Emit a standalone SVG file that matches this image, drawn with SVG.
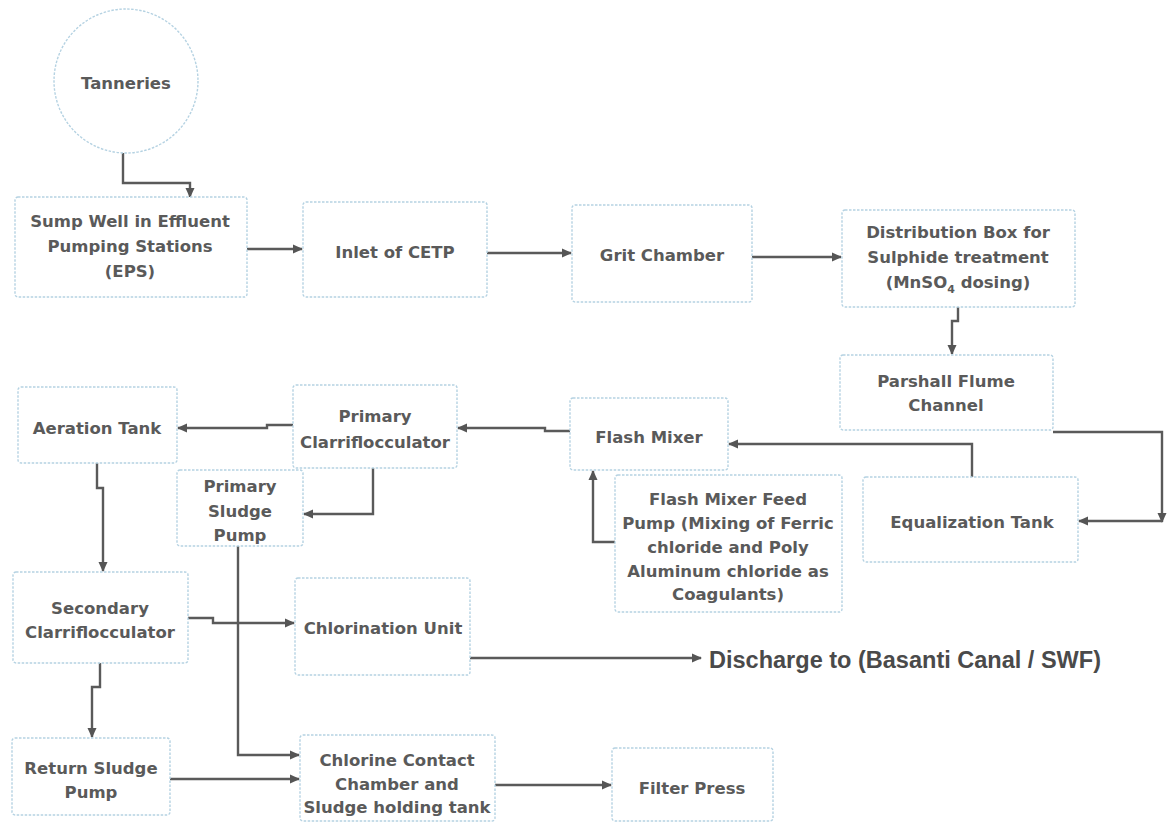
<svg xmlns="http://www.w3.org/2000/svg" width="1172" height="823" viewBox="0 0 1172 823">
<style>
.box{fill:#ffffff;stroke:#b5d2e2;stroke-width:1.4;stroke-dasharray:2.5 1.5}
.t{font-family:"DejaVu Sans","Liberation Sans",sans-serif;font-weight:bold;font-size:16.5px;fill:#5a5a5a;text-anchor:middle}
.big{font-family:"Liberation Sans",Arial,sans-serif;font-weight:bold;font-size:23px;fill:#4a4a4a}
.c{fill:none;stroke:#5a5a5a;stroke-width:2.4;marker-end:url(#ah)}
</style>
<defs>
<marker id="ah" markerUnits="userSpaceOnUse" markerWidth="10" markerHeight="10" refX="9" refY="5" orient="auto">
<path d="M0,0.5 L10,5 L0,9.5 z" fill="#555555"/>
</marker>
</defs>
<rect width="1172" height="823" fill="#ffffff"/>

<g id="connectors">
<path class="c" d="M123,153 V183 H190 V197"/>
<path class="c" d="M247,249 H302"/>
<path class="c" d="M487,253 H571"/>
<path class="c" d="M752,257 H841"/>
<path class="c" d="M958,307 V321 H952 V354"/>
<path class="c" d="M1053,432 H1162 V522"/>
<path class="c" d="M1162,521 H1079"/>
<path class="c" d="M972,477 V444 H729"/>
<path class="c" d="M570,431 H545 V428 H458"/>
<path class="c" d="M615,542 H593 V471"/>
<path class="c" d="M293,425 H267 V428 H178"/>
<path class="c" d="M373,468 V514 H304"/>
<path class="c" d="M97,463 V488 H103 V571"/>
<path class="c" d="M238,546 V755 H299"/>
<path class="c" d="M188,618 H213 V623 H294"/>
<path class="c" d="M100,663 V687 H92 V737"/>
<path class="c" d="M170,779 H299"/>
<path class="c" d="M470,658 H701"/>
<path class="c" d="M495,785 H611"/>
</g>

<g id="tanneries">
<circle cx="126" cy="81" r="72" fill="#ffffff" stroke="#b5d2e2" stroke-width="1.4" stroke-dasharray="2.5 1.5"/>
<text class="t" x="126" y="89">Tanneries</text>
</g>

<g id="sump-well">
<rect class="box" x="15" y="197" width="232" height="100" rx="3"/>
<text class="t" x="130" y="227">Sump Well in Effluent</text>
<text class="t" x="130" y="252">Pumping Stations</text>
<text class="t" x="130" y="277">(EPS)</text>
</g>

<g id="inlet">
<rect class="box" x="303" y="202" width="184" height="95" rx="3"/>
<text class="t" x="395" y="258">Inlet of CETP</text>
</g>

<g id="grit">
<rect class="box" x="572" y="205" width="180" height="97" rx="3"/>
<text class="t" x="662" y="261">Grit Chamber</text>
</g>

<g id="distribution">
<rect class="box" x="842" y="210" width="233" height="97" rx="3"/>
<text class="t" x="958" y="238">Distribution Box for</text>
<text class="t" x="958" y="263">Sulphide treatment</text>
<text class="t" x="958" y="288">(MnSO<tspan font-size="11" dy="5">4</tspan><tspan dy="-5"> dosing)</tspan></text>
</g>

<g id="parshall">
<rect class="box" x="840" y="355" width="213" height="75" rx="3"/>
<text class="t" x="946" y="387">Parshall Flume</text>
<text class="t" x="946" y="411">Channel</text>
</g>

<g id="equalization">
<rect class="box" x="863" y="477" width="215" height="85" rx="3"/>
<text class="t" x="972" y="528">Equalization Tank</text>
</g>

<g id="flash-mixer">
<rect class="box" x="570" y="398" width="158" height="72" rx="3"/>
<text class="t" x="649" y="443">Flash Mixer</text>
</g>

<g id="feed-pump">
<rect class="box" x="615" y="475" width="227" height="137" rx="3"/>
<text class="t" x="728" y="505">Flash Mixer Feed</text>
<text class="t" x="728" y="529">Pump (Mixing of Ferric</text>
<text class="t" x="728" y="553">chloride and Poly</text>
<text class="t" x="728" y="577">Aluminum chloride as</text>
<text class="t" x="728" y="600">Coagulants)</text>
</g>

<g id="primary-clarriflocculator">
<rect class="box" x="293" y="385" width="164" height="83" rx="3"/>
<text class="t" x="375" y="422">Primary</text>
<text class="t" x="375" y="448">Clarriflocculator</text>
</g>

<g id="aeration">
<rect class="box" x="18" y="387" width="159" height="76" rx="3"/>
<text class="t" x="97" y="434">Aeration Tank</text>
</g>

<g id="primary-sludge-pump">
<rect class="box" x="177" y="470" width="126" height="76" rx="3"/>
<text class="t" x="240" y="492">Primary</text>
<text class="t" x="240" y="517">Sludge</text>
<text class="t" x="240" y="541">Pump</text>
</g>

<g id="secondary">
<rect class="box" x="13" y="572" width="175" height="91" rx="3"/>
<text class="t" x="100" y="614">Secondary</text>
<text class="t" x="100" y="638">Clarriflocculator</text>
</g>

<g id="chlorination">
<rect class="box" x="295" y="578" width="175" height="97" rx="3"/>
<text class="t" x="383" y="634">Chlorination Unit</text>
</g>

<g id="discharge">
<text class="big" x="709" y="668" textLength="392" lengthAdjust="spacingAndGlyphs">Discharge to (Basanti Canal / SWF)</text>
</g>

<g id="return-sludge">
<rect class="box" x="12" y="738" width="158" height="77" rx="3"/>
<text class="t" x="91" y="774">Return Sludge</text>
<text class="t" x="91" y="798">Pump</text>
</g>

<g id="chlorine-contact">
<rect class="box" x="300" y="735" width="195" height="86" rx="3"/>
<text class="t" x="397" y="766">Chlorine Contact</text>
<text class="t" x="397" y="790">Chamber and</text>
<text class="t" x="397" y="813">Sludge holding tank</text>
</g>

<g id="filter-press">
<rect class="box" x="612" y="748" width="161" height="73" rx="3"/>
<text class="t" x="692" y="794">Filter Press</text>
</g>
</svg>
